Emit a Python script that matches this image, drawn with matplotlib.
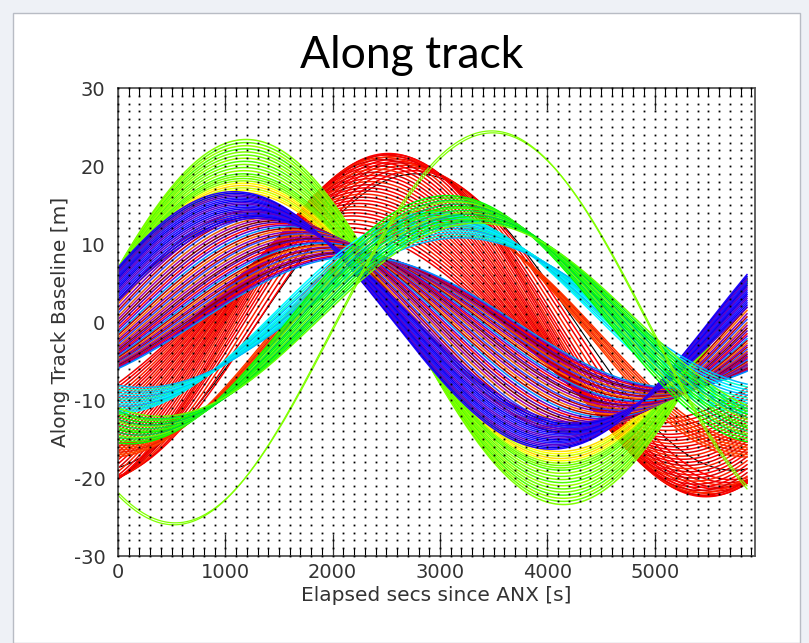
import matplotlib.pyplot as plt
import numpy as np
from matplotlib.patches import Rectangle
from matplotlib.ticker import MultipleLocator

plt.rcParams['font.family'] = ['DejaVu Sans']
plt.rcParams['axes.unicode_minus'] = False

# orbit period [s] and elapsed time since ascending node
PERIOD = 5916.0
t = np.arange(0, 5861, 10)

# along-track baseline bands: time of maximum [s], amplitude [m], offset [m]
red_peak = [2760, 2720, 2680, 2640, 2610, 2585, 2560, 2540, 2520, 2500,
            2480, 2462, 2445, 2430, 2415, 2400, 2385, 2370, 2352, 2338,
            2320, 2305, 2290, 2272, 2258, 2240, 2225, 2208, 2190, 2175,
            2160, 2142, 2125, 2110]
red_amp = [19.8, 20.2, 20.5, 20.8, 21.0, 21.3, 21.6, 21.9, 22.0, 21.8,
           21.5, 21.2, 20.8, 20.4, 20.0, 19.6, 19.2, 18.8, 18.4, 18.0,
           17.6, 17.2, 16.8, 16.4, 16.0, 15.6, 15.2, 14.8, 14.4, 14.0,
           13.5, 13.0, 12.5, 12.0]
red_off = -0.4

orange_peak = [2900, 2918, 2937, 2955, 2974, 2992, 3010]
orange_amp = [15.8, 15.5, 15.2, 14.9, 14.6, 14.3, 14.0]
orange_off = -1.5

lime_peak = [1195, 1192, 1190, 1188, 1186, 1184, 1182, 1180, 1178, 1176,
             1174, 1172, 1170, 1168, 1166]
lime_amp = [23.4, 23.0, 22.6, 22.2, 21.8, 21.4, 21.0, 20.6, 20.2, 19.8,
            19.4, 19.0, 18.7, 18.4, 18.1]
lime_off = 0.0

yellow_peak = [1164, 1162, 1160, 1158, 1156]
yellow_amp = [17.8, 17.5, 17.2, 16.9, 16.6]
yellow_off = 0.0

mid_peak = [1300, 1325, 1352, 1378, 1401, 1430, 1455, 1482, 1508, 1536,
            1561, 1590, 1614, 1642, 1668, 1695, 1720, 1748, 1773, 1801,
            1826, 1853, 1879, 1906, 1932, 1960, 1985, 2012, 2038, 2066,
            2091, 2118, 2145, 2171, 2198, 2225]
mid_amp = [14.4, 14.2, 14.0, 13.8, 13.6, 13.4, 13.2, 13.0, 12.8, 12.6,
           12.4, 12.2, 12.0, 11.8, 11.6, 11.4, 11.3, 11.1, 10.9, 10.7,
           10.6, 10.4, 10.2, 10.1, 9.9, 9.8, 9.6, 9.5, 9.3, 9.2,
           9.0, 8.9, 8.8, 8.6, 8.5, 8.4]
mid_off = 0.0

blue_peak = [1080, 1090, 1100, 1110, 1120, 1131, 1142, 1153, 1165, 1177,
             1190, 1203, 1217, 1232, 1248, 1265, 1283, 1302]
blue_amp = [16.5, 16.3, 16.1, 15.9, 15.7, 15.5, 15.3, 15.1, 14.9, 14.7,
            14.5, 14.3, 14.1, 13.9, 13.7, 13.5, 13.3, 13.1]
blue_off = 0.2

black_peak = [2780]
black_amp = [19.0]
black_off = 0.0

cyan_peak = [2940, 2962, 2985, 3006, 3030, 3051, 3074, 3096, 3119, 3140,
             3163, 3185]
cyan_amp = [12.9, 12.6, 12.3, 12.0, 11.7, 11.4, 11.1, 10.8, 10.5, 10.2,
            9.9, 9.6]
cyan_off = 1.2

green_peak = [3070, 3091, 3113, 3134, 3156, 3177, 3199, 3220, 3242, 3263,
              3285, 3306, 3328, 3350]
green_amp = [15.9, 15.6, 15.3, 15.1, 14.8, 14.5, 14.3, 14.0, 13.7, 13.5,
             13.2, 12.9, 12.7, 12.4]
green_off = 0.3

arc_peak = [3480, 3492]
arc_amp = [25.25, 25.0]
arc_off = -0.75


def draw_band(ax, peaks, amps, offset, colors, lw=1.1):
    """draw one family of baseline curves"""
    for i, (tp, a) in enumerate(zip(peaks, amps)):
        y = offset + a * np.cos(2 * np.pi * (t - tp) / PERIOD)
        ax.plot(t, y, color=colors[i % len(colors)], lw=lw, zorder=2)


fig = plt.figure(figsize=(8.09, 6.43), dpi=100)
fig.patch.set_facecolor('#eef1f6')
fig.patches.append(Rectangle((13 / 809, 0), 787 / 809, 1 - 13 / 643,
                             transform=fig.transFigure, facecolor='white',
                             edgecolor='#b8bcc4', lw=1.0, zorder=-5))

ax = fig.add_axes([118 / 809, 1 - 556 / 643, 636.5 / 809, 468 / 643])
ax.set_zorder(2)

draw_band(ax, black_peak, black_amp, black_off, ['#000000'], lw=0.8)
draw_band(ax, red_peak, red_amp, red_off,
          ['#ff0000', '#ee0000', '#ff2200', '#dd0000'])
draw_band(ax, orange_peak, orange_amp, orange_off,
          ['#ff3300', '#ff4a00', '#ee2200'])
draw_band(ax, lime_peak, lime_amp, lime_off,
          ['#80ff00', '#66ff00', '#99ff00', '#4cff00'])
draw_band(ax, yellow_peak, yellow_amp, yellow_off,
          ['#ffff00', '#ffdd00', '#ccff00'])
draw_band(ax, mid_peak, mid_amp, mid_off,
          ['#b00000', '#ff6a00', '#7a00c0', '#c00000', '#3344ff',
           '#e05a00', '#9a00b0', '#900000', '#5a00b0', '#ff0000',
           '#6600cc', '#0090ff'])
draw_band(ax, blue_peak, blue_amp, blue_off,
          ['#2200ff', '#0000ee', '#4400dd', '#5a00c8', '#1a1aff'])
draw_band(ax, cyan_peak, cyan_amp, cyan_off,
          ['#00ffff', '#00ddff', '#00ffcc', '#00bbff'])
draw_band(ax, green_peak, green_amp, green_off,
          ['#00ff00', '#33ff00', '#00ee33', '#66ff00', '#00cc44'])
draw_band(ax, arc_peak, arc_amp, arc_off, ['#80ff00'], lw=0.9)

# dotted grid: one dot per 100 s x 1 m cell
gx, gy = np.meshgrid(np.arange(0, 5901, 100), np.arange(-30, 31, 1))
ax.plot(gx.ravel(), gy.ravel(), ls='none', marker='s', ms=1.3, mew=0,
        color='#000000', zorder=5, clip_on=False)

ax.set_xlim(0, 5930)
ax.set_ylim(-30, 30)
ax.xaxis.set_major_locator(MultipleLocator(1000))
ax.xaxis.set_minor_locator(MultipleLocator(100))
ax.yaxis.set_major_locator(MultipleLocator(10))
ax.tick_params(axis='x', which='major', direction='in', length=16,
               width=0.9, top=True, labelsize=14, pad=5, colors='#333333')
ax.tick_params(axis='x', which='minor', direction='in', length=6,
               width=0.8, top=True)
ax.tick_params(axis='y', which='major', length=0, labelsize=14, pad=9,
               colors='#333333')
for s in ax.spines.values():
    s.set_color('#555555')
    s.set_linewidth(1.3)

ax.set_xlabel('Elapsed secs since ANX [s]', fontsize=14.5, color='#333333',
              labelpad=3)
ax.set_ylabel('Along Track Baseline [m]', fontsize=14.5, color='#333333',
              labelpad=3)
fig.text(412 / 809, 1 - 56 / 643, 'Along track', ha='center', va='center',
         fontsize=32, family=['Lato', 'DejaVu Sans'])

fig.savefig('out.png', dpi=100, facecolor=fig.get_facecolor())
